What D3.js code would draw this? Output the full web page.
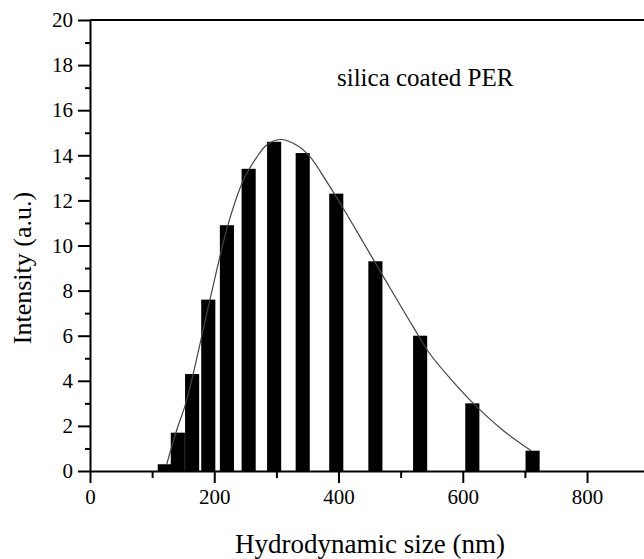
<!DOCTYPE html>
<meta charset="utf-8">
<style type="text/css">
  body { margin: 0; background: #fff; }
  svg { display: block; font-family: "Liberation Serif", "Times New Roman", serif; }
  .axis path, .axis line { stroke: #000; stroke-width: 2; }
  .bar { fill: #000; }
</style>
<body></body>
<script src="https://d3js.org/d3.v7.min.js"></script>
<script>

// bin centres (nm) and intensities
var sizes = [121, 142, 165, 191, 221, 256, 297, 343, 397, 460, 532, 616, 713];
var intensity = [0.3, 1.7, 4.3, 7.6, 10.9, 13.4, 14.6, 14.1, 12.3, 9.3, 6.0, 3.0, 0.9];

// fitted curve, points
var fitX = [123, 140, 153, 166, 193, 223, 247, 268, 284, 306, 333, 354, 381, 408, 440, 472, 520, 547, 580, 617, 665, 710];
var fitY = [0.25, 1.85, 2.9, 4.3, 7.6, 11.0, 12.9, 13.9, 14.45, 14.7, 14.45, 13.94, 12.83, 11.63, 10.13, 8.63, 6.4, 5.2, 4.1, 3.0, 1.8, 0.9];

var xMajor = [0, 200, 400, 600, 800];
var xMinor = [100, 300, 500, 700, 900];
var yMajor = [0, 2, 4, 6, 8, 10, 12, 14, 16, 18, 20];
var yMinor = [1, 3, 5, 7, 9, 11, 13, 15, 17, 19];

var width = 644, height = 559;
var binWidth = 24;

var svg = d3.select("body").append("svg")
    .attr("width", width)
    .attr("height", height);

var x = d3.scaleLinear().domain([0, 1000]).range([90, 711.3]);
var y = d3.scaleLinear().domain([0, 20]).range([471, 20]);

// bars
svg.selectAll(".bar")
    .data(sizes)
  .enter().append("rect")
    .attr("class", "bar")
    .attr("x", function(d) { return x(d - binWidth / 2); })
    .attr("width", function(d) { return x(d + binWidth / 2) - x(d - binWidth / 2) - 0.8; })
    .attr("y", function(d, i) { return y(intensity[i]); })
    .attr("height", function(d, i) { return y(0) - y(intensity[i]); });

// fit line
var fit = fitX.map(function(d, i) { return [d, fitY[i]]; });
svg.append("path")
    .datum(fit)
    .attr("fill", "none")
    .attr("stroke", "#444")
    .attr("stroke-width", 1.2)
    .attr("d", d3.line()
      .x(function(d) { return x(d[0]); })
      .y(function(d) { return y(d[1]); })
      .curve(d3.curveCatmullRom));

// x axis
svg.append("g")
    .attr("class", "axis")
    .attr("transform", "translate(0," + y(0) + ")")
    .call(d3.axisBottom(x).tickValues(xMinor).tickSize(7).tickFormat(""))
    .call(function(g) { g.select(".domain").remove(); });

svg.append("g")
    .attr("class", "axis")
    .attr("transform", "translate(0," + y(0) + ")")
    .call(d3.axisBottom(x).tickValues(xMajor).tickSize(12).tickSizeOuter(0).tickPadding(6))
    .attr("font-family", "Liberation Serif")
    .attr("font-size", 21);

// y axis
svg.append("g")
    .attr("class", "axis")
    .attr("transform", "translate(" + x(0) + ",0)")
    .call(d3.axisLeft(y).tickValues(yMinor).tickSize(5).tickFormat(""))
    .call(function(g) { g.select(".domain").remove(); });

svg.append("g")
    .attr("class", "axis")
    .attr("transform", "translate(" + x(0) + ",0)")
    .call(d3.axisLeft(y).tickValues(yMajor).tickSize(12).tickSizeOuter(0).tickPadding(5))
    .attr("font-family", "Liberation Serif")
    .attr("font-size", 21);

// top frame line
svg.append("line")
    .attr("x1", x(0)).attr("x2", x(1000))
    .attr("y1", y(20)).attr("y2", y(20))
    .attr("stroke", "#000")
    .attr("stroke-width", 2);

// labels
svg.append("text")
    .attr("x", 370)
    .attr("y", 553)
    .attr("text-anchor", "middle")
    .style("font-size", "27px")
    .text("Hydrodynamic size (nm)");

svg.append("text")
    .attr("transform", "translate(31,268) rotate(-90)")
    .attr("text-anchor", "middle")
    .style("font-size", "26px")
    .text("Intensity (a.u.)");

svg.append("text")
    .attr("x", 337)
    .attr("y", 86)
    .style("font-size", "25px")
    .text("silica coated PER");

</script>
